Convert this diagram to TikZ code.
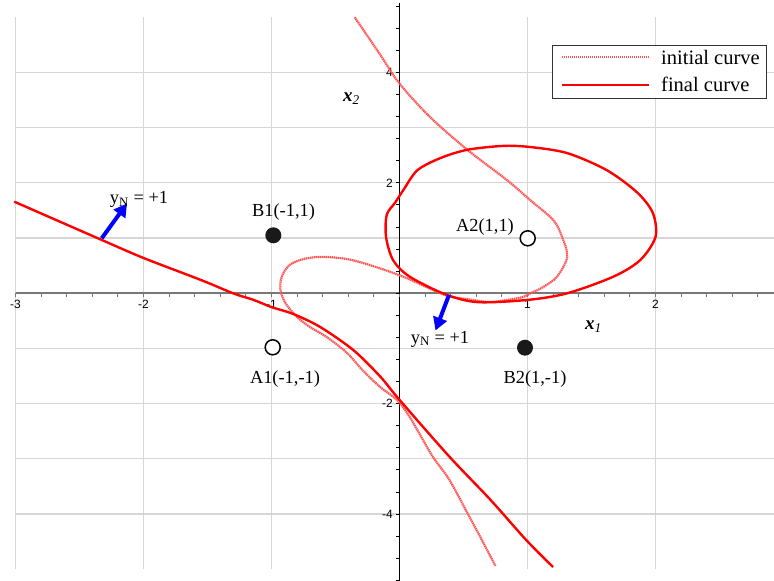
\documentclass[tikz,border=0pt]{standalone}
\usepackage{fontspec}
\setmainfont{Liberation Serif}
\newfontfamily\ticksf{Liberation Sans}
\usetikzlibrary{arrows.meta}
\definecolor{gridgray}{RGB}{214,214,214}
\definecolor{axisgray}{RGB}{120,120,120}
\definecolor{initred}{RGB}{255,85,85}
\definecolor{finalred}{RGB}{255,0,0}
\definecolor{ptfill}{RGB}{25,25,25}
\definecolor{arrowblue}{RGB}{0,0,255}
\begin{document}
\begin{tikzpicture}[x=1pt,y=1pt,
  gridline/.style={draw=gridgray, line width=1.2pt},
  finalcurve/.style={draw=finalred, line width=2.4pt, line join=round},
  initcurve/.style={draw=initred, line width=2.2pt, dash pattern=on 1.4pt off 0.6pt},
  normalarrow/.style={draw=arrowblue, line width=4pt, -{Triangle[length=13pt,width=14pt]}},
  ptlabel/.style={font=\fontsize{18.4}{20}\selectfont, inner sep=0pt, anchor=base},
  ticklabel/.style={font=\ticksf\fontsize{12}{12}\selectfont, inner sep=0pt},
  filledpt/.style={circle, fill=ptfill, minimum size=16pt, inner sep=0pt},
  openpt/.style={circle, draw=black, line width=1.5pt, fill=white, minimum size=15pt, inner sep=0pt},
  legendtext/.style={font=\fontsize{20.5}{22}\selectfont, anchor=base west, inner sep=0pt},
  axlabel/.style={font=\fontsize{19}{20}\selectfont, anchor=base west, inner sep=0pt}
]
\useasboundingbox (0,0) rectangle (774,581);
\begin{scope}[shift={(399.5,287.7)}, x=128pt, y=55.2pt]
  % grid
  \foreach \i in {-3,-2,-1,1,2} \draw[gridline] (\i,-5) -- (\i,5);
  \foreach \j in {-4,-3,-2,-1,1,2,3,4} \draw[gridline] (-3,\j) -- (2.93,\j);
  % axes
  \draw[axisgray, line width=2pt] (-3,0) -- (2.93,0);
  \draw[black, line width=1.4pt] (0,-5.3) -- (0,5.25);
  \foreach \k in {-15,...,14} \draw[axisgray, line width=1pt] (\k*0.2,0) -- ++(0,-3.5pt);
  \foreach \k in {-13,...,13} \draw[black, line width=1pt] (0,\k*0.4) -- ++(-4pt,0);
  % tick labels
  \foreach \i in {-3,-2,-1,1,2}
    \node[ticklabel, anchor=north] (tx\i) at ([yshift=-7pt]\i,0) {\i};
  \foreach \j in {-4,-2,2,4}
    \node[ticklabel, anchor=east] (ty\j) at ([xshift=-6.5pt]0,\j) {\j};
  % initial curve
  \draw[initcurve] plot[smooth, tension=0.55] coordinates {
    (-0.35,5.0) (-0.15,4.32) (0.0,3.8) (0.24,3.19) (0.53,2.60) (0.84,2.05)
    (1.02,1.69) (1.2,1.33) (1.27,1.02) (1.31,0.66) (1.23,0.30) (1.12,0.11)
    (1.04,0.02) (0.96,-0.07) (0.84,-0.12) (0.71,-0.16) (0.57,-0.12) (0.42,-0.07)
    (0.32,0.0) (0.03,0.30) (-0.23,0.51) (-0.41,0.62) (-0.60,0.66) (-0.75,0.62)
    (-0.86,0.51) (-0.92,0.30) (-0.93,0.06) (-0.89,-0.18) (-0.80,-0.43) (-0.70,-0.61)
    (-0.57,-0.79) (-0.41,-1.08) (-0.29,-1.39) (-0.15,-1.70) (-0.02,-1.93) (0.06,-2.17)
    (0.14,-2.48) (0.26,-2.96) (0.39,-3.38) (0.53,-3.98) (0.63,-4.41) (0.75,-4.94)};
  % final curve, open branch
  \draw[finalcurve] plot[smooth, tension=0.5] coordinates {
    (-3.01,1.66) (-2.33,0.97) (-2.0,0.64) (-1.55,0.24) (-1.30,0.0) (-1.14,-0.12)
    (-1.0,-0.25) (-0.83,-0.375) (-0.62,-0.61) (-0.36,-1.03) (-0.15,-1.51) (0,-1.93)
    (0.39,-2.96) (0.71,-3.74) (0.99,-4.47) (1.2,-4.96)};
  % final curve, closed loop
  \draw[finalcurve] plot[smooth cycle, tension=0.5] coordinates {
    (0.03,1.87) (0.14,2.23) (0.32,2.45) (0.53,2.60) (0.81,2.67) (1.02,2.65)
    (1.31,2.54) (1.62,2.23) (1.86,1.82) (1.98,1.45) (2.0,1.02) (1.88,0.60)
    (1.67,0.30) (1.31,0.0) (1.0,-0.12) (0.61,-0.16) (0.36,-0.02) (0.08,0.30)
    (-0.05,0.60) (-0.105,1.02) (-0.1,1.42) (-0.035,1.64)};
\end{scope}
% points
\node[filledpt] (B1) at (273.3,345.7) {};
\node[openpt] (A2) at (527.7,342.7) {};
\node[openpt] (A1) at (272.7,233.7) {};
\node[filledpt] (B2) at (525,233.3) {};
\node[ptlabel] (lB1) at (283.5,364.3) {B1(-1,1)};
\node[ptlabel] (lA2) at (485,349.3) {A2(1,1)};
\node[ptlabel] (lA1) at (285,197.7) {A1(-1,-1)};
\node[ptlabel] (lB2) at (535,197) {B2(1,-1)};
% normal arrows
\coordinate (n1s) at (101.7,342.7);
\coordinate (n1e) at (127,377.5);
\coordinate (n2s) at (449,286);
\coordinate (n2e) at (435.5,250.5);
\draw[normalarrow] (n1s) -- (n1e);
\draw[normalarrow] (n2s) -- (n2e);
\node[ptlabel] (yn1) at (139,377) {y\textsubscript{N} = +1};
\node[ptlabel] (yn2) at (440,237.7) {y\textsubscript{N} = +1};
% axis labels
\node[axlabel] (xtwo) at (343,479.3) {\textbf{\textit{x}}\textsubscript{\textit{2}}};
\node[axlabel] (xone) at (585,251) {\textbf{\textit{x}}\textsubscript{\textit{1}}};
% legend
\node[draw=black!80, line width=1.2pt, fill=white, minimum width=213.7pt, minimum height=53.3pt, inner sep=0pt, anchor=north west] (legend) at (552,536) {};
\coordinate (li1) at (562,524.3);
\coordinate (li2) at (649,524.3);
\coordinate (lf1) at (562,496);
\coordinate (lf2) at (649,496);
\draw[initcurve] (li1) -- (li2);
\draw[finalcurve, line width=2.6pt] (lf1) -- (lf2);
\node[legendtext] (tinit) at (661,516) {initial curve};
\node[legendtext] (tfinal) at (661,489) {final curve};
\end{tikzpicture}
\end{document}
